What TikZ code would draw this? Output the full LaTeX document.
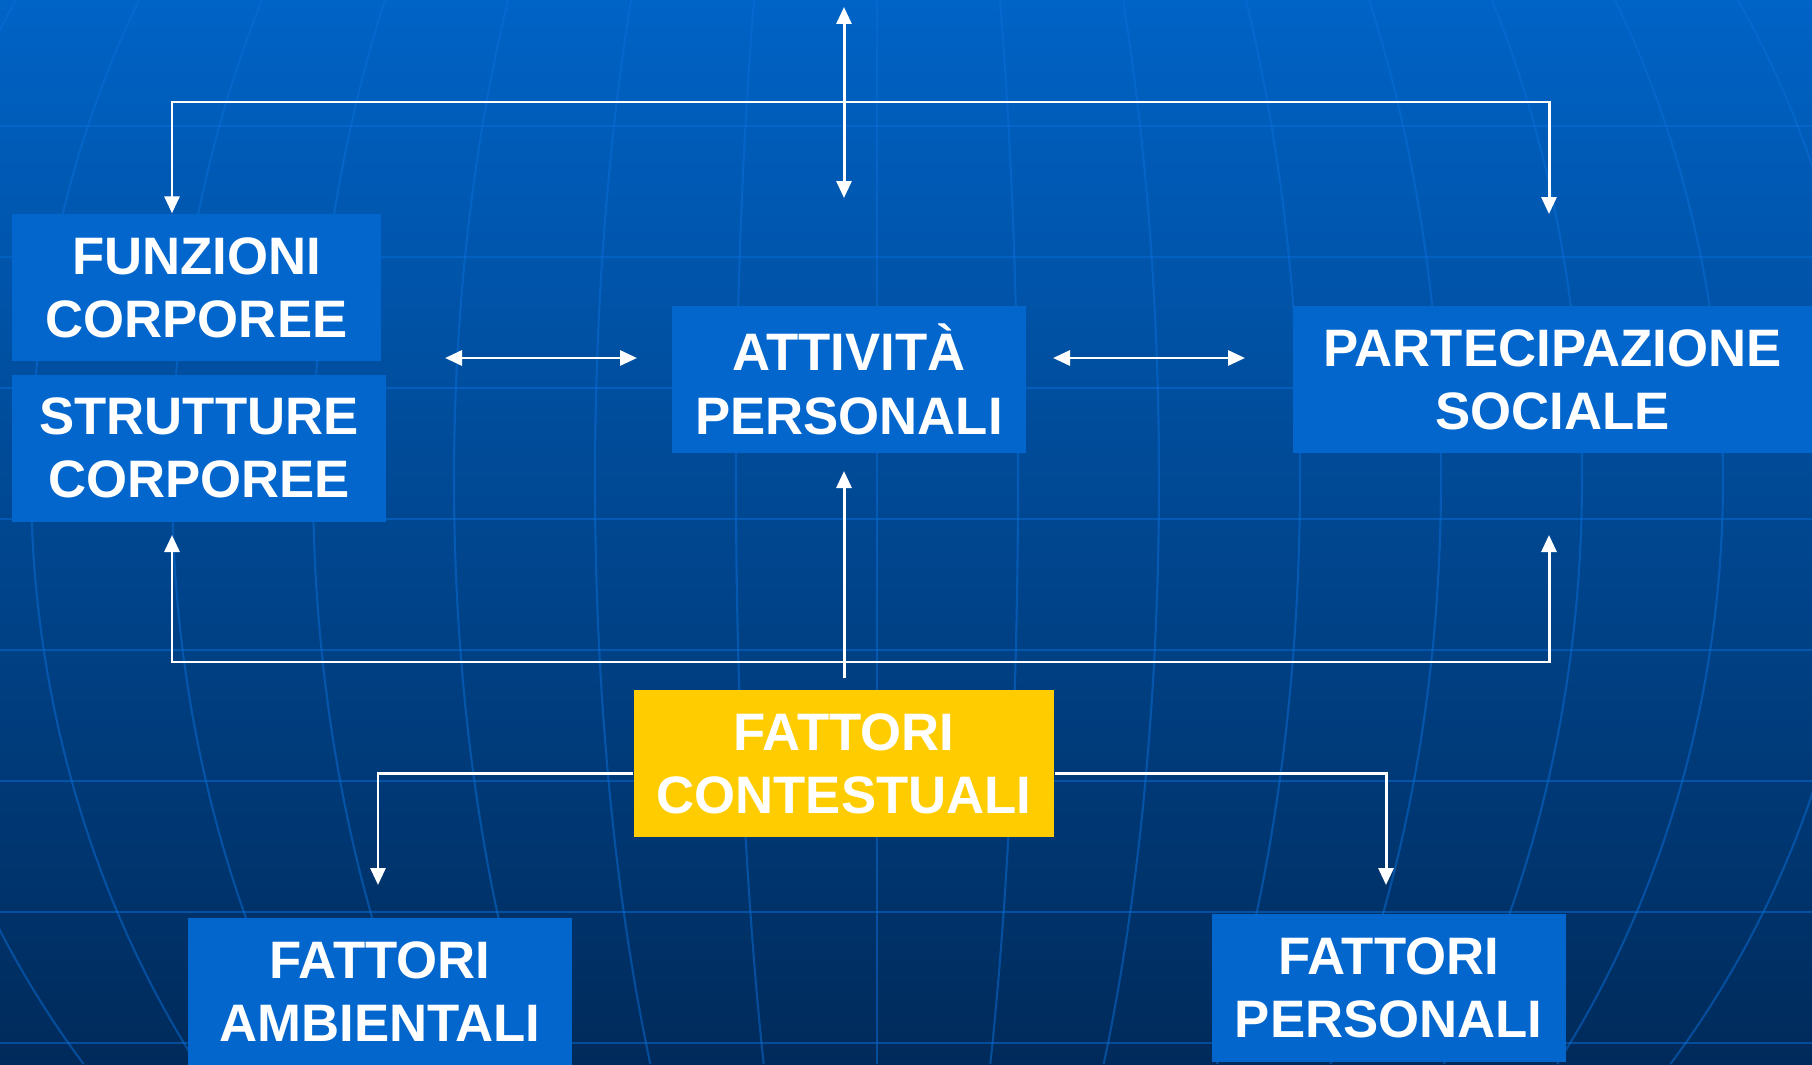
\documentclass[tikz,border=0pt]{standalone}
\usepackage{fontspec}
\setmainfont{Liberation Sans}
\usetikzlibrary{arrows.meta}

\definecolor{sfondoalto}{RGB}{0,99,198}
\definecolor{sfondobasso}{RGB}{0,42,90}
\definecolor{coloregriglia}{RGB}{10,110,215}
\definecolor{blubox}{RGB}{2,102,204}
\definecolor{gialloctx}{RGB}{255,204,0}

\begin{document}
\begin{tikzpicture}[
  box/.style={fill=blubox, text=white, align=center, inner sep=0pt, minimum height=1.47cm,
    font=\fontsize{15}{18}\selectfont\bfseries},
  ctx/.style={box, fill=gialloctx},
  griglia/.style={draw=coloregriglia, opacity=0.5, line width=0.6pt},
  linea/.style={draw=white, line width=0.85pt},
  freccia/.style={linea, -{Triangle[length=1.7mm,width=1.5mm]}},
  doppia/.style={linea, {Triangle[length=1.7mm,width=1.5mm]}-{Triangle[length=1.7mm,width=1.5mm]}}
]
\useasboundingbox (0,0) rectangle (18.12,10.64);
\fill[top color=sfondoalto, bottom color=sfondobasso] (0,0) rectangle (18.12,10.64);

% globe in the background
\begin{scope}
\clip (0,0) rectangle (18.12,10.64);
\foreach \y in {0.21,1.52,2.83,4.14,5.45,6.76,8.07,9.38}
	\draw[griglia] (0,\y) -- (18.12,\y);
\foreach \n in {-7,...,7}
	\draw[griglia] plot[variable=\t, domain=0:10.64, samples=40, smooth]
		({8.77+\n*1.41*sqrt(1-((\t-5.84)/9.82)^2)}, \t);
\end{scope}

\node[box, minimum width=3.69cm] (funzioni) at (1.965,7.765) {FUNZIONI\\CORPOREE};
\node[box, minimum width=3.74cm] (strutture) at (1.99,6.16) {STRUTTURE\\CORPOREE};
\node[box, minimum width=3.54cm] (attivita) at (8.49,6.845) {ATTIVITÀ\\PERSONALI};
\node[box, minimum width=5.19cm] (partecipazione) at (15.525,6.845) {PARTECIPAZIONE\\SOCIALE};
\node[ctx, minimum width=4.20cm] (contestuali) at (8.44,3.005) {FATTORI\\CONTESTUALI};
\node[box, minimum width=3.84cm] (ambientali) at (3.80,0.725) {FATTORI\\AMBIENTALI};
\node[box, minimum width=3.535cm, minimum height=1.48cm] (personali) at (13.8875,0.76) {FATTORI\\PERSONALI};

\coordinate (cima) at (8.44,10.57);
\coordinate (cimabasso) at (8.44,8.66);
\coordinate (altosx) at (1.72,9.62);
\coordinate (altodx) at (15.49,9.62);
\coordinate (partalto) at (15.49,8.50);
\coordinate (bassosx) at (1.72,4.02);
\coordinate (bassodx) at (15.49,4.02);
\coordinate (struttbasso) at (1.72,5.29);
\coordinate (partbasso) at (15.49,5.29);
\coordinate (attivbasso) at (8.44,5.93);
\coordinate (ctxalto) at (8.44,3.86);
\coordinate (sxa) at (4.45,7.06);
\coordinate (sxb) at (6.37,7.06);
\coordinate (dxa) at (10.53,7.06);
\coordinate (dxb) at (12.45,7.06);
\coordinate (ambalto) at (3.78,1.79);
\coordinate (persalto) at (13.86,1.79);

\foreach \from/\to in {cima/cimabasso, sxa/sxb, dxa/dxb}
	\draw[doppia] (\from) -- (\to);
\draw[doppia] (funzioni.north -| altosx) -- (altosx) -- (altodx) -- (partalto);
\draw[doppia] (struttbasso) -- (bassosx) -- (bassodx) -- (partbasso);
\draw[freccia] (ctxalto) -- (attivbasso);
\draw[freccia] ([yshift=-1mm]contestuali.west) -| (ambalto);
\draw[freccia] ([yshift=-1mm]contestuali.east) -| (persalto);

\end{tikzpicture}
\end{document}
